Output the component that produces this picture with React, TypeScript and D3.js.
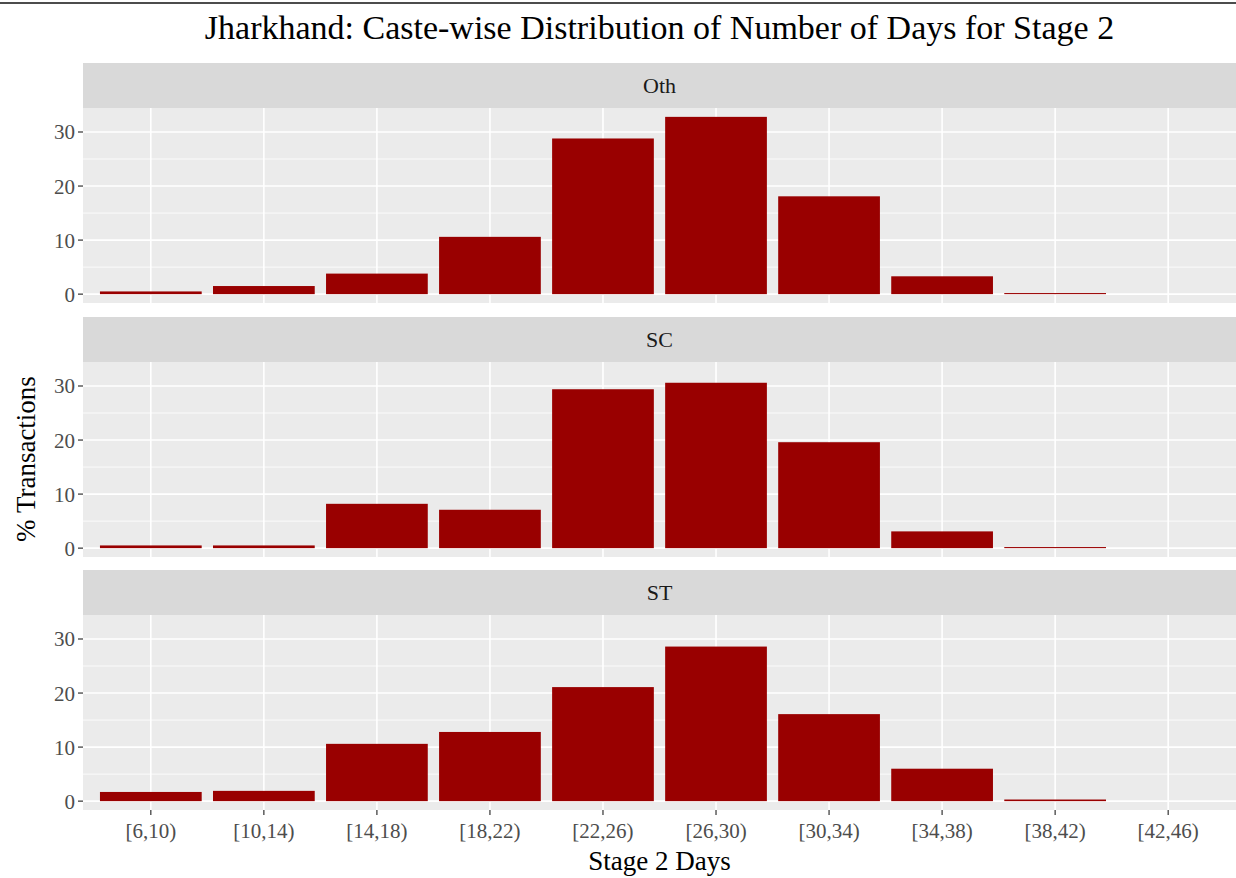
import React from 'react';
import * as d3 from 'd3';

const categories = ['[6,10)', '[10,14)', '[14,18)', '[18,22)', '[22,26)', '[26,30)', '[30,34)', '[34,38)', '[38,42)', '[42,46)'];
const facets = ['Oth', 'SC', 'ST'];
const othValues = [0.5, 1.5, 3.8, 10.6, 28.8, 32.8, 18.1, 3.3, 0.2, 0];
const scValues = [0.5, 0.5, 8.2, 7.1, 29.4, 30.6, 19.6, 3.1, 0.2, 0];
const stValues = [1.7, 1.9, 10.6, 12.8, 21.1, 28.6, 16.1, 6.0, 0.3, 0];
const yTicks = [0, 10, 20, 30];
const yMinor = [5, 15, 25];

const seriesByFacet = [othValues, scValues, stValues];

const W = 1236;
const H = 878;
const left = 83;
const right = 1236;
const stripH = 45;
const panelH = 195;
const panelTops = [63, 317, 570]; // strip tops
const font = '"Liberation Serif", "DejaVu Serif", serif';

export default function App() {
  // ggplot-like discrete expansion: 0.6 units each side
  const xPos = d3.scaleLinear().domain([0.4, categories.length + 0.6]).range([left, right]);
  const barW = (xPos(1.9) - xPos(1.0));

  const maxVal = d3.max(seriesByFacet.flat()) as number;
  const pad = maxVal * 0.05;
  const y = d3.scaleLinear().domain([-pad, maxVal + pad]).range([panelH, 0]);

  return (
    <svg width={W} height={H} style={{ position: 'absolute', left: 0, top: 0, background: '#fff' }}>
      <line x1={0} x2={W} y1={3} y2={3} stroke="#111" strokeWidth={1.5} />
      <text x={(left + right) / 2} y={39} textAnchor="middle" fontFamily={font} fontSize={34} fill="#000">
        Jharkhand: Caste-wise Distribution of Number of Days for Stage 2
      </text>

      {facets.map((f, fi) => {
        const top = panelTops[fi];
        const pTop = top + stripH;
        const vals = seriesByFacet[fi];
        return (
          <g key={f}>
            <rect x={left} y={top} width={right - left} height={stripH} fill="#d9d9d9" />
            <text x={(left + right) / 2} y={top + stripH / 2 + 7.5} textAnchor="middle" fontFamily={font} fontSize={22} fill="#1a1a1a">
              {f}
            </text>
            <g transform={`translate(0,${pTop})`}>
              <rect x={left} y={0} width={right - left} height={panelH} fill="#ebebeb" />
              {yMinor.map(t => (
                <line key={'m' + t} x1={left} x2={right} y1={y(t)} y2={y(t)} stroke="#fff" strokeWidth={0.8} />
              ))}
              {yTicks.map(t => (
                <line key={'g' + t} x1={left} x2={right} y1={y(t)} y2={y(t)} stroke="#fff" strokeWidth={1.6} />
              ))}
              {categories.map((c, i) => (
                <line key={'v' + c} x1={xPos(i + 1)} x2={xPos(i + 1)} y1={0} y2={panelH} stroke="#fff" strokeWidth={1.6} />
              ))}
              {vals.map((v, i) => (
                v > 0 ? (
                  <rect key={'b' + i} x={xPos(i + 1) - barW / 2} y={y(v)} width={barW} height={y(0) - y(v)} fill="#990000" />
                ) : null
              ))}
              {yTicks.map(t => (
                <g key={'t' + t}>
                  <line x1={left - 5} x2={left} y1={y(t)} y2={y(t)} stroke="#333" strokeWidth={1.2} />
                  <text x={left - 8} y={y(t) + 7.5} textAnchor="end" fontFamily={font} fontSize={21} fill="#4d4d4d">{t}</text>
                </g>
              ))}
            </g>
          </g>
        );
      })}

      {categories.map((c, i) => (
        <g key={'x' + c}>
          <line x1={xPos(i + 1)} x2={xPos(i + 1)} y1={panelTops[2] + stripH + panelH} y2={panelTops[2] + stripH + panelH + 5} stroke="#333" strokeWidth={1.2} />
          <text x={xPos(i + 1)} y={838} textAnchor="middle" fontFamily={font} fontSize={21} fill="#4d4d4d">{c}</text>
        </g>
      ))}

      <text x={(left + right) / 2} y={870} textAnchor="middle" fontFamily={font} fontSize={27} fill="#000">Stage 2 Days</text>
      <text transform={`translate(35,${(panelTops[0] + stripH + panelTops[2] + stripH + panelH) / 2}) rotate(-90)`} textAnchor="middle" fontFamily={font} fontSize={27} fill="#000">
        % Transactions
      </text>
    </svg>
  );
}
